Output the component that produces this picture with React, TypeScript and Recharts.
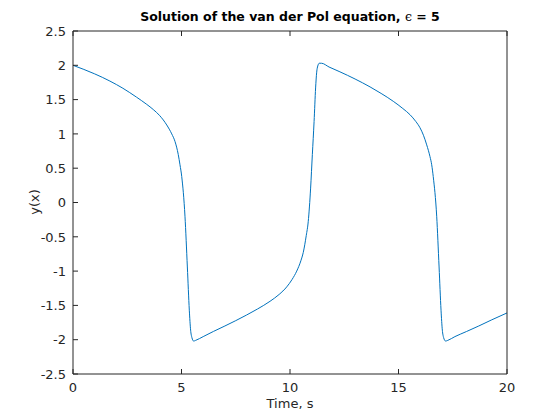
import { LineChart, Line, XAxis, YAxis } from 'recharts';

// time samples (s)
const times = [
  0, 0.5, 1.0, 1.7, 2.3, 2.93, 3.4, 3.7, 4.0, 4.32, 4.55, 4.7, 4.85, 4.93, 5.01,
  5.16, 5.27, 5.36, 5.42, 5.48, 5.56, 5.65, 6.0, 6.47, 7.0, 7.5, 8.0, 8.5, 9.08,
  9.5, 9.85, 10.1, 10.31, 10.5, 10.61, 10.75, 10.84, 10.95, 11.03, 11.11, 11.18,
  11.23, 11.28, 11.35, 11.45, 11.8, 12.3, 13.0, 13.69, 14.2, 14.76, 15.2, 15.53,
  15.8, 15.99, 16.15, 16.3, 16.45, 16.53, 16.6, 16.76, 16.87, 16.96, 17.02, 17.08,
  17.17, 17.27, 17.6, 18.14, 18.7, 19.3, 20.0,
];

// y(x) at those times
const yValues = [
  2.0, 1.94, 1.875, 1.77, 1.665, 1.535, 1.43, 1.355, 1.265, 1.13, 1.0, 0.89, 0.7, 0.55, 0.38,
  -0.2, -0.94, -1.57, -1.86, -1.97, -2.02, -2.01, -1.955, -1.88, -1.8, -1.722, -1.64, -1.553, -1.44,
  -1.34, -1.23, -1.12, -1.0, -0.85, -0.73, -0.48, -0.28, 0.21, 0.7, 1.18, 1.67,
  1.9, 1.99, 2.03, 2.03, 1.975, 1.905, 1.8, 1.685, 1.59, 1.475, 1.37, 1.28,
  1.18, 1.09, 0.98, 0.84, 0.67, 0.55, 0.38, -0.2, -0.94, -1.57, -1.86, -1.97,
  -2.02, -2.01, -1.955, -1.88, -1.8, -1.71, -1.61,
];

const xTicks = [0, 5, 10, 15, 20];
const yTicks = [-2.5, -2, -1.5, -1, -0.5, 0, 0.5, 1, 1.5, 2, 2.5];

const data = times.map((t, i) => ({ t, y: yValues[i] }));

const FONT = '"DejaVu Sans", sans-serif';
const INK = '#262626';
const TICK_LEN = 5;

function BottomTick(props: any) {
  const { x, y, payload } = props;
  return (
    <g>
      <line x1={x} y1={y} x2={x} y2={y - TICK_LEN} stroke={INK} />
      <text x={x} y={y + 18} textAnchor="middle" fontSize={13} fontFamily={FONT} fill={INK}>
        {payload.value}
      </text>
    </g>
  );
}

function LeftTick(props: any) {
  const { x, y, payload } = props;
  return (
    <g>
      <line x1={x} y1={y} x2={x + TICK_LEN} y2={y} stroke={INK} />
      <text x={x - 7} y={y + 4.7} textAnchor="end" fontSize={13} fontFamily={FONT} fill={INK}>
        {payload.value}
      </text>
    </g>
  );
}

function TopTick(props: any) {
  const { x, y } = props;
  return <line x1={x} y1={y} x2={x} y2={y + TICK_LEN} stroke={INK} />;
}

function RightTick(props: any) {
  const { x, y } = props;
  return <line x1={x} y1={y} x2={x - TICK_LEN} y2={y} stroke={INK} />;
}

export default function App() {
  return (
    <div style={{ position: 'absolute', left: 0, top: 0, width: 560, height: 420, background: '#fff' }}>
      <LineChart width={560} height={420} data={data} margin={{ top: 30, right: 52, bottom: 0, left: 0 }}>
        <XAxis
          dataKey="t"
          type="number"
          domain={[0, 20]}
          ticks={xTicks}
          interval={0}
          height={46}
          tickSize={0}
          tickMargin={0}
          tickLine={false}
          axisLine={{ stroke: INK }}
          tick={<BottomTick />}
        />
        <XAxis
          xAxisId="top"
          orientation="top"
          dataKey="t"
          type="number"
          domain={[0, 20]}
          ticks={xTicks}
          interval={0}
          height={1}
          tickSize={0}
          tickMargin={0}
          tickLine={false}
          axisLine={{ stroke: INK }}
          tick={<TopTick />}
        />
        <YAxis
          type="number"
          domain={[-2.5, 2.5]}
          ticks={yTicks}
          interval={0}
          width={73}
          tickSize={0}
          tickMargin={0}
          tickLine={false}
          axisLine={{ stroke: INK }}
          tick={<LeftTick />}
        />
        <YAxis
          yAxisId="right"
          orientation="right"
          type="number"
          domain={[-2.5, 2.5]}
          ticks={yTicks}
          interval={0}
          width={1}
          tickSize={0}
          tickMargin={0}
          tickLine={false}
          axisLine={{ stroke: INK }}
          tick={<RightTick />}
        />
        <Line
          dataKey="y"
          type="monotone"
          stroke="#0072BD"
          strokeWidth={1}
          dot={false}
          isAnimationActive={false}
        />
      </LineChart>
      <svg
        width={560}
        height={420}
        style={{ position: 'absolute', left: 0, top: 0, pointerEvents: 'none' }}
      >
        <text x={290} y={21} textAnchor="middle" fontSize={12.5} fontWeight="bold" fontFamily={FONT} fill="#000">
          Solution of the van der Pol equation, <tspan fontWeight="normal" fontFamily="DejaVu Serif, serif">ϵ</tspan> = 5
        </text>
        <text x={290} y={408} textAnchor="middle" fontSize={13} fontFamily={FONT} fill={INK}>
          Time, s
        </text>
        <text
          x={39}
          y={202}
          textAnchor="middle"
          fontSize={13}
          fontFamily={FONT}
          fill={INK}
          transform="rotate(-90 39 202)"
        >
          y(x)
        </text>
      </svg>
    </div>
  );
}
